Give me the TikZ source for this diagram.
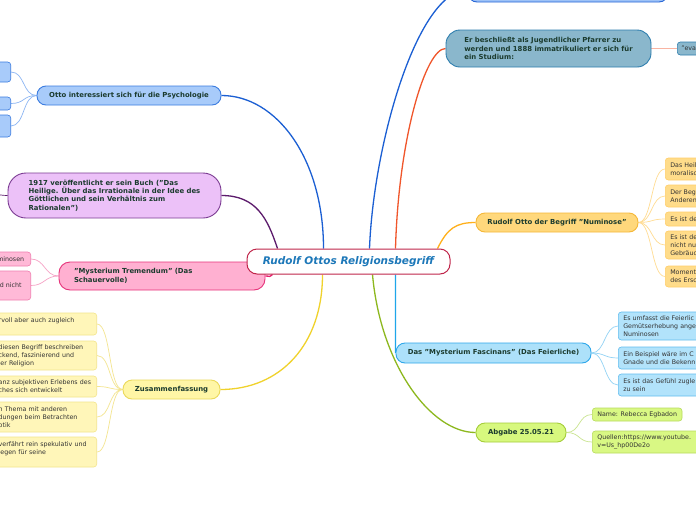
\documentclass[tikz,border=0pt]{standalone}
\usepackage{fontspec}
\setmainfont{DejaVu Sans}
\usetikzlibrary{backgrounds,calc}
\definecolor{Ink}{HTML}{1B3B2E}
\definecolor{LeafInk}{HTML}{333333}
\definecolor{RootBorder}{HTML}{C0254A}
\definecolor{RootText}{HTML}{1D78B9}
\definecolor{PsyFill}{HTML}{A8CBFA}
\definecolor{PsyBorder}{HTML}{3B7CE0}
\definecolor{PsyLine}{HTML}{1B5FD3}
\definecolor{PsyTwig}{HTML}{8DB6F3}
\definecolor{TopFill}{HTML}{9DC2F7}
\definecolor{TopBorder}{HTML}{2866D6}
\definecolor{ErFill}{HTML}{8AB7CC}
\definecolor{ErBorder}{HTML}{2E7EAE}
\definecolor{ErLine}{HTML}{F0562B}
\definecolor{ErTwig}{HTML}{F9B4A2}
\definecolor{BookFill}{HTML}{ECC1F8}
\definecolor{BookBorder}{HTML}{7C3C93}
\definecolor{BookLine}{HTML}{5C1B6C}
\definecolor{TremFill}{HTML}{FFB0D1}
\definecolor{TremBorder}{HTML}{E6337A}
\definecolor{TremLine}{HTML}{E51F6D}
\definecolor{TremLeaf}{HTML}{FFB9D7}
\definecolor{TremLeafBorder}{HTML}{F07FB0}
\definecolor{TremTwig}{HTML}{F6A3C6}
\definecolor{ZusFill}{HTML}{FFF6A6}
\definecolor{ZusBorder}{HTML}{EBD95A}
\definecolor{ZusLine}{HTML}{F0D22C}
\definecolor{ZusLeaf}{HTML}{FFF6B9}
\definecolor{ZusLeafBorder}{HTML}{F3E58C}
\definecolor{ZusTwig}{HTML}{F4E590}
\definecolor{NumFill}{HTML}{FFD87C}
\definecolor{NumBorder}{HTML}{F5B838}
\definecolor{NumLine}{HTML}{FFB01C}
\definecolor{NumLeaf}{HTML}{FFDC8A}
\definecolor{NumLeafBorder}{HTML}{FFCE6A}
\definecolor{NumTwig}{HTML}{FFDC92}
\definecolor{FasFill}{HTML}{ADE1FA}
\definecolor{FasBorder}{HTML}{2EA7EA}
\definecolor{FasLine}{HTML}{1EA6EA}
\definecolor{FasLeaf}{HTML}{B2E3FB}
\definecolor{FasLeafBorder}{HTML}{62BDEF}
\definecolor{FasTwig}{HTML}{93D3F5}
\definecolor{AbgFill}{HTML}{D7F87E}
\definecolor{AbgBorder}{HTML}{A5CD3A}
\definecolor{AbgLine}{HTML}{8DB81E}
\definecolor{AbgLeaf}{HTML}{D9F884}
\definecolor{AbgLeafBorder}{HTML}{B7DB5E}
\definecolor{AbgTwig}{HTML}{C9E48F}

\begin{document}
\begin{tikzpicture}[x=1pt,y=-1pt,
    topic/.style={rounded corners=9pt,line width=0.9pt,align=left,text=Ink,
      font=\fontsize{6.9}{8.4}\selectfont\bfseries,inner xsep=6pt,inner ysep=3pt},
    leaf/.style={rounded corners=3pt,line width=0.6pt,align=left,text=LeafInk,
      font=\fontsize{6.3}{8}\selectfont,inner xsep=4pt,inner ysep=2pt},
    branch/.style={line width=1.3pt},
    twig/.style={line width=0.7pt}]
  \useasboundingbox (0,0) rectangle (696,520);
  \clip (0,0) rectangle (696,520);
  % main topics
  \node[topic,fill=TopFill,draw=TopBorder,minimum width=200pt,minimum height=24pt] (topn) at (568,-10) {};
  \node[topic,fill=ErFill,draw=ErBorder,minimum width=205pt,minimum height=37pt,rounded corners=14pt] (er)
    at (548.5,48.5) {Er beschließt als Jugendlicher Pfarrer zu\\werden und 1888 immatrikuliert er sich für\\ein Studium:};
  \node[leaf,fill=ErFill,draw=ErBorder,anchor=west,text width=50pt,minimum height=13pt] (erc) at (677,48.5) {"evan};
  \node[topic,fill=PsyFill,draw=PsyBorder,minimum width=184pt,minimum height=19pt] (psy)
    at (129,95.5) {Otto interessiert sich für die Psychologie};
  \node[topic,fill=BookFill,draw=BookBorder,minimum width=213pt,minimum height=45pt,rounded corners=18pt] (book)
    at (114.5,195.5) {1917 veröffentlicht er sein Buch ("Das\\Heilige. Über das Irrationale in der Idee des\\Göttlichen und sein Verhältnis zum\\Rationalen")};
  \node[topic,fill=TremFill,draw=TremBorder,text width=176pt,inner xsep=15pt,minimum height=28pt,rounded corners=11pt] (trem)
    at (162,276) {"Mysterium Tremendum" (Das\\Schauervolle)};
  \node[topic,fill=ZusFill,draw=ZusBorder,minimum width=97pt,minimum height=19pt] (zus)
    at (171.5,389.5) {Zusammenfassung};
  \node[topic,fill=NumFill,draw=NumBorder,minimum width=162pt,minimum height=19pt] (num)
    at (557,222.5) {Rudolf Otto der Begriff "Numinose"};
  \node[topic,fill=FasFill,draw=FasBorder,minimum width=195pt,minimum height=20pt] (fas)
    at (493.5,353) {Das "Mysterium Fascinans" (Das Feierliche)};
  \node[topic,fill=AbgFill,draw=AbgBorder,minimum width=90pt,minimum height=19pt] (abg)
    at (521,432.5) {Abgabe 25.05.21};
  \node[fill=white,draw=RootBorder,line width=1pt,rounded corners=10pt,minimum width=203pt,minimum height=25pt,
    text=RootText,font=\fontsize{10.5}{12}\selectfont\bfseries\itshape] (root) at (348.5,261.5) {Rudolf Ottos Religionsbegriff};
  % leaves
  \node[leaf,fill=PsyFill,draw=PsyBorder,anchor=east,minimum width=40pt,minimum height=20pt] (psyA) at (11,72) {};
  \node[leaf,fill=PsyFill,draw=PsyBorder,anchor=east,minimum width=30pt,minimum height=13pt] (psyB) at (11,103.5) {0)"};
  \node[leaf,fill=PsyFill,draw=PsyBorder,anchor=east,minimum width=40pt,minimum height=22pt] (psyC) at (11,126) {};
  \node[leaf,fill=TremLeaf,draw=TremLeafBorder,anchor=east,minimum width=40pt,minimum height=14pt] (tremA) at (31,259) {minosen};
  \node[leaf,fill=TremLeaf,draw=TremLeafBorder,anchor=east,minimum width=40pt,minimum height=29pt] (tremB) at (31,285.5) {d nicht};
  \begin{scope}[every node/.append style={leaf,fill=ZusLeaf,draw=ZusLeafBorder,anchor=east,text width=94pt}]
    \node[minimum height=22pt] (zusA) at (97,324) {rvoll aber auch zugleich\\\mbox{}};
    \node[minimum height=29pt] (zusB) at (97,355.5) {diesen Begriff beschreiben\\ckend, faszinierend und\\ler Religion};
    \node[minimum height=21pt] (zusC) at (97,386.5) {anz subjektiven Erlebens des\\ches sich entwickelt};
    \node[minimum height=30pt] (zusD) at (97,417) {n Thema mit anderen\\dungen beim Betrachten\\otik};
    \node[minimum height=30pt] (zusE) at (97,452) {verfährt rein spekulativ und\\legen für seine\\\mbox{}};
  \end{scope}
  \begin{scope}[every node/.append style={leaf,fill=NumLeaf,draw=NumLeafBorder,anchor=west,text width=60pt,inner xsep=5pt}]
    \node[minimum height=22pt] (numA) at (665,169) {Das Heil\\moralisc};
    \node[minimum height=22pt] (numB) at (665,196) {Der Beg\\Anderen};
    \node[minimum height=14pt] (numC) at (665,219) {Es ist de};
    \node[minimum height=28pt] (numD) at (665,245) {Es ist de\\nicht nu\\Gebräuc};
    \node[minimum height=21pt] (numE) at (665,276.5) {Moment\\des Ersc};
  \end{scope}
  \begin{scope}[every node/.append style={leaf,fill=FasLeaf,draw=FasLeafBorder,anchor=west,text width=95pt,inner xsep=5pt}]
    \node[minimum height=28pt] (fasA) at (618,326) {Es umfasst die Feierlic\\Gemütserhebung ange\\Numinosen};
    \node[minimum height=22pt] (fasB) at (618,358) {Ein Beispiel wäre im C\\Gnade und die Bekenn};
    \node[minimum height=22pt] (fasC) at (618,385) {Es ist das Gefühl zugle\\zu sein};
  \end{scope}
  \node[leaf,fill=AbgLeaf,draw=AbgLeafBorder,anchor=west,inner xsep=5pt,minimum height=13pt] (abgA) at (592,414.5) {Name: Rebecca Egbadon};
  \node[leaf,fill=AbgLeaf,draw=AbgLeafBorder,anchor=west,inner xsep=5pt,text width=110pt,minimum height=22pt] (abgB)
    at (592,442) {Quellen:https://www.youtube.\\v=Us\_hp00De2o};
  % connectors
  \coordinate (rN1) at ([xshift=-71pt]root.north);
  \coordinate (rN2) at ([xshift=-25pt]root.north);
  \coordinate (rN3) at ([xshift=21pt]root.north);
  \coordinate (rN4) at ([xshift=47pt]root.north);
  \coordinate (rN5) at ([xshift=89pt]root.north);
  \coordinate (rS1) at ([xshift=-76pt]root.south);
  \coordinate (rS2) at ([xshift=-26pt]root.south);
  \coordinate (rS3) at ([xshift=24pt]root.south);
  \coordinate (rS4) at ([xshift=47pt]root.south);
  \coordinate (bookOut) at (-25,192);
  \begin{scope}[on background layer]
    \fill[white] (0,0) rectangle (696,520);
    \draw[branch,PsyLine] (psy.east) .. controls +(55,0) and +(0,-90) .. (rN2);
    \draw[branch,BookLine] (book.east) .. controls +(35,0) and +(-10,-30) .. (rN1);
    \draw[branch,TremLine] (trem.east) .. controls +(6,0) and +(-4,3) .. (rS1);
    \draw[branch,ZusLine] (zus.east) .. controls +(60,0) and +(0,70) .. (rS2);
    \draw[branch,PsyLine] (rN3) .. controls +(4,-105) and +(-50,0) .. (topn.west);
    \draw[branch,ErLine] (rN4) .. controls +(3,-110) and +(-20,0) .. (er.west);
    \draw[branch,NumLine] (rN5) .. controls +(10,-20) and +(-20,0) .. (num.west);
    \draw[branch,FasLine] (rS4) .. controls +(0,45) and +(0,-30) .. (fas.west);
    \draw[branch,AbgLine] (rS3) .. controls +(8,90) and +(-45,0) .. (abg.west);
    \draw[twig,BookLine] (book.west) .. controls +(-8,0) and +(8,0) .. (bookOut);
    \draw[twig,ErTwig] (er.east) -- (erc.west);
    \foreach \c in {psyA,psyB,psyC}
      \draw[twig,PsyTwig] (psy.west) .. controls +(-14,0) and +(14,0) .. (\c.east);
    \foreach \c in {tremA,tremB}
      \draw[twig,TremTwig] (trem.west) .. controls +(-14,0) and +(14,0) .. (\c.east);
    \foreach \c in {zusA,zusB,zusC,zusD,zusE}
      \draw[twig,ZusTwig] (zus.west) .. controls +(-14,0) and +(14,0) .. (\c.east);
    \foreach \c in {numA,numB,numC,numD,numE}
      \draw[twig,NumTwig] (num.east) .. controls +(14,0) and +(-14,0) .. (\c.west);
    \foreach \c in {fasA,fasB,fasC}
      \draw[twig,FasTwig] (fas.east) .. controls +(14,0) and +(-14,0) .. (\c.west);
    \foreach \c in {abgA,abgB}
      \draw[twig,AbgTwig] (abg.east) .. controls +(14,0) and +(-14,0) .. (\c.west);
  \end{scope}
\end{tikzpicture}
\end{document}
